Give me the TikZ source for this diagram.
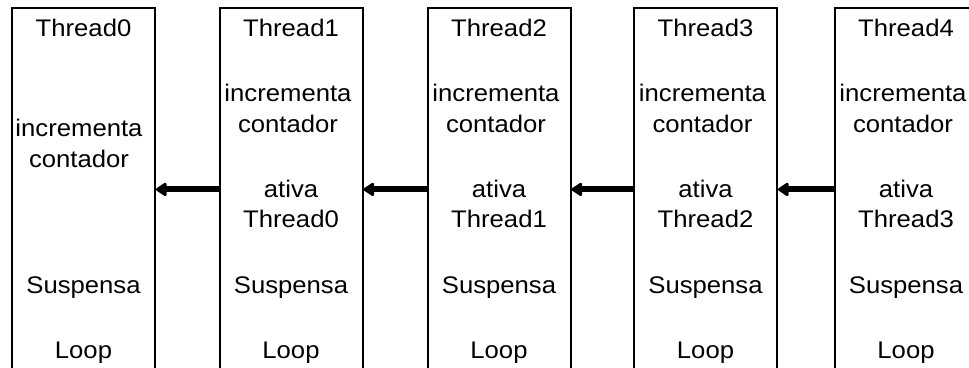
\documentclass[tikz,border=0pt]{standalone}
\usepackage{fontspec}
\setmainfont{Liberation Sans}[FakeStretch=1.07]
\usepackage{tikz}
\usetikzlibrary{arrows, arrows.meta}
\tikzset{threadbox/.style={rectangle, draw, line width=2pt, minimum width=143pt, minimum height=400pt, inner sep=0pt}}
\tikzset{wake/.style={line width=6pt, -{Triangle[length=12pt, width=15pt, round]}}}

\begin{document}
\begin{tikzpicture}[x=1pt, y=1pt]
\useasboundingbox (0,0) rectangle (969,367);
\clip (0,0) rectangle (969,367);
\begin{scope}[every node/.style={anchor=base, inner sep=0pt, font=\fontsize{24}{28}\selectfont}]

  \draw node[threadbox] (b0) at (83.5,159) {};
  \draw node (t0) at (83.5,330) {Thread0};
  \draw node (i0) at (79,230) {incrementa};
  \draw node (c0) at (79,199) {contador};
  \draw node (s0) at (83.5,74) {Suspensa};
  \draw node (l0) at (83.5,9) {Loop};

  \draw node[threadbox] (b1) at (291,159) {};
  \draw node (t1) at (291,330) {Thread1};
  \draw node (i1) at (288,265) {incrementa};
  \draw node (c1) at (288,234) {contador};
  \draw node (a1) at (291,169) {ativa};
  \draw node (r1) at (291,139) {Thread0};
  \draw node (s1) at (291,74) {Suspensa};
  \draw node (l1) at (291,9) {Loop};

  \draw node[threadbox] (b2) at (499,159) {};
  \draw node (t2) at (499,330) {Thread2};
  \draw node (i2) at (496,265) {incrementa};
  \draw node (c2) at (496,234) {contador};
  \draw node (a2) at (499,169) {ativa};
  \draw node (r2) at (499,139) {Thread1};
  \draw node (s2) at (499,74) {Suspensa};
  \draw node (l2) at (499,9) {Loop};

  \draw node[threadbox] (b3) at (705.5,159) {};
  \draw node (t3) at (705.5,330) {Thread3};
  \draw node (i3) at (702.5,265) {incrementa};
  \draw node (c3) at (702.5,234) {contador};
  \draw node (a3) at (705.5,169) {ativa};
  \draw node (r3) at (705.5,139) {Thread2};
  \draw node (s3) at (705.5,74) {Suspensa};
  \draw node (l3) at (705.5,9) {Loop};

  \draw node[threadbox] (b4) at (906,159) {};
  \draw node (t4) at (906,330) {Thread4};
  \draw node (i4) at (903,265) {incrementa};
  \draw node (c4) at (903,234) {contador};
  \draw node (a4) at (906,169) {ativa};
  \draw node (r4) at (906,139) {Thread3};
  \draw node (s4) at (906,74) {Suspensa};
  \draw node (l4) at (906,9) {Loop};

  \draw[wake] (b1.west |- a1.center) -- (b0.east |- a1.center);
  \draw[wake] (b2.west |- a2.center) -- (b1.east |- a2.center);
  \draw[wake] (b3.west |- a3.center) -- (b2.east |- a3.center);
  \draw[wake] (b4.west |- a4.center) -- (b3.east |- a4.center);
\end{scope}
\end{tikzpicture}
\end{document}
